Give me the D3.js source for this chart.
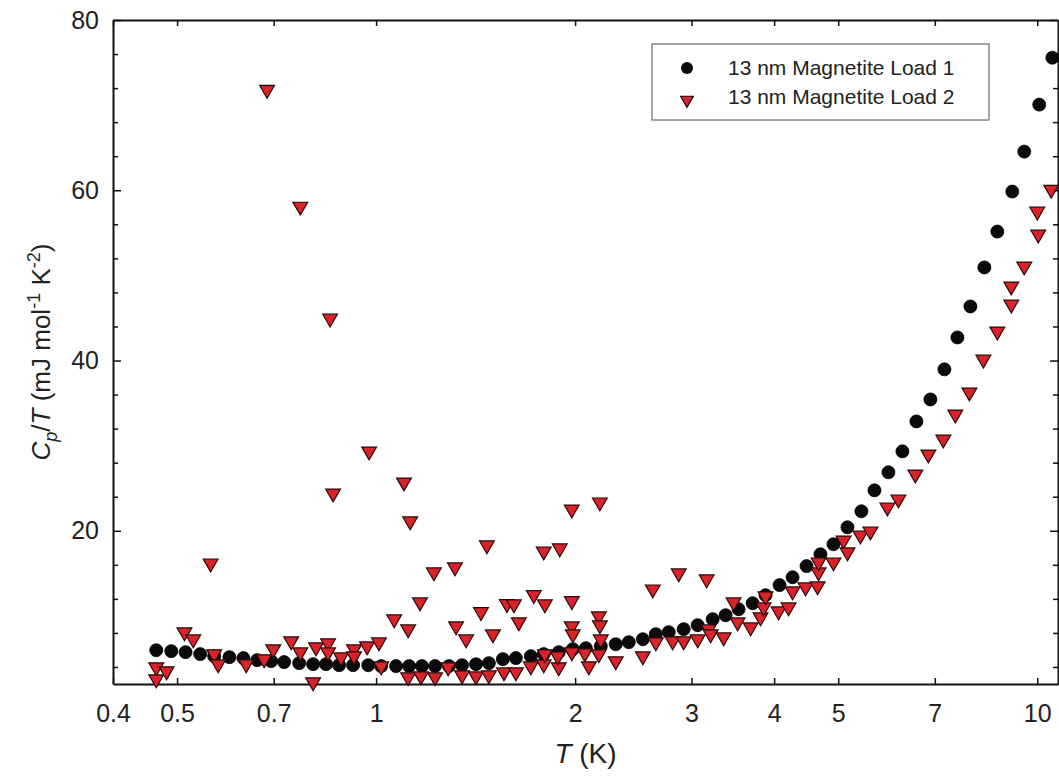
<!DOCTYPE html>
<html>
<head>
<meta charset="utf-8">
<script src="https://cdn.jsdelivr.net/npm/d3@7"></script>
<style>
  body { margin: 0; background: #fff; }
  text { font-family: "Liberation Sans", Arial, sans-serif; fill: #222; }
</style>
</head>
<body>
<div id="chart"></div>
<script>
// ---- data ----
const seriesNames = ["13 nm Magnetite Load 1", "13 nm Magnetite Load 2"];

// Load 1 (black circles): T in K, Cp/T in mJ mol^-1 K^-2
const load1T = [0.465, 0.490, 0.515, 0.542, 0.569, 0.600, 0.630, 0.661, 0.694, 0.726,
  0.765, 0.803, 0.840, 0.879, 0.923, 0.973, 1.018, 1.072, 1.122, 1.173,
  1.228, 1.289, 1.349, 1.416, 1.481, 1.555, 1.627, 1.714, 1.793, 1.889,
  1.984, 2.076, 2.187, 2.304, 2.411, 2.532, 2.649, 2.771, 2.919, 3.065,
  3.229, 3.378, 3.534, 3.711, 3.882, 4.076, 4.265, 4.478, 4.700, 4.918,
  5.164, 5.421, 5.673, 5.956, 6.253, 6.565, 6.893, 7.238, 7.573, 7.923,
  8.318, 8.702, 9.168, 9.558, 10.07, 10.54];
const load1Cp = [5.97, 5.86, 5.74, 5.51, 5.27, 5.15, 5.04, 4.80, 4.69, 4.57,
  4.45, 4.33, 4.33, 4.21, 4.21, 4.21, 4.10, 4.10, 4.10, 4.10,
  4.10, 4.10, 4.21, 4.33, 4.45, 4.92, 5.04, 5.27, 5.51, 5.74,
  6.09, 6.21, 6.44, 6.68, 6.91, 7.26, 7.85, 8.09, 8.44, 8.91,
  9.61, 10.08, 10.79, 11.49, 12.43, 13.62, 14.54, 15.85, 17.24, 18.42,
  20.41, 22.29, 24.75, 26.87, 29.33, 32.85, 35.43, 38.96, 42.71, 46.35,
  50.93, 55.15, 59.85, 64.54, 70.06, 75.57];

// Load 2 (red triangles)
const load2T = [0.465, 0.465, 0.482, 0.513, 0.529, 0.562, 0.569, 0.577, 0.636, 0.677,
  0.699, 0.744, 0.768, 0.803, 0.811, 0.846, 0.846, 0.885, 0.926, 0.926,
  0.969, 1.010, 1.018, 1.065, 0.684, 0.768, 0.852, 0.861, 0.976, 1.102,
  1.126, 1.165, 1.223, 1.316, 1.471, 1.793, 1.896, 1.977, 2.180, 1.441,
  1.577, 1.732, 1.977, 1.616, 1.800, 1.118, 1.321, 1.644, 1.368, 1.502,
  2.869, 2.621, 3.162, 2.172, 2.180, 1.977, 1.984, 2.187, 1.118, 1.169,
  1.228, 1.285, 1.349, 1.416, 1.481, 1.561, 1.627, 1.714, 1.793, 1.800,
  1.889, 1.883, 2.069, 2.098, 2.172, 2.304, 2.532, 2.649, 2.809, 2.919,
  3.065, 3.184, 3.206, 3.355, 3.473, 3.522, 3.685, 3.815, 3.855, 3.882,
  4.062, 4.206, 4.265, 4.462, 4.653, 4.669, 4.669, 4.918, 5.093, 5.164,
  5.403, 5.594, 5.935, 6.166, 6.542, 6.844, 7.211, 7.518, 7.896, 8.289,
  8.702, 9.136, 9.136, 9.558, 10.035, 10.00, 10.50, 1.977];
const load2Cp = [3.98, 2.57, 3.51, 8.09, 7.26, 16.18, 5.51, 4.33, 4.33, 4.92,
  6.09, 7.03, 5.74, 2.22, 6.33, 6.80, 5.74, 5.15, 6.09, 5.27,
  6.44, 6.91, 4.10, 9.61, 71.82, 58.09, 44.94, 24.40, 29.33, 25.69,
  21.12, 11.61, 15.13, 15.72, 18.30, 17.59, 17.95, 22.52, 23.35, 10.46,
  11.40, 12.46, 11.76, 11.37, 11.37, 8.44, 8.79, 9.26, 7.26, 7.85,
  15.01, 13.13, 14.31, 9.96, 8.91, 8.79, 7.85, 7.26, 2.81, 2.92,
  2.81, 3.98, 3.04, 2.92, 3.04, 3.39, 3.39, 4.10, 4.33, 5.51,
  3.98, 5.27, 5.62, 4.10, 5.51, 4.69, 5.27, 6.91, 7.03, 7.03,
  7.26, 8.44, 7.85, 7.50, 11.61, 9.26, 8.67, 9.85, 11.02, 12.31,
  10.55, 11.02, 12.90, 13.37, 13.49, 15.13, 16.30, 16.30, 18.88, 17.48,
  19.47, 19.94, 22.76, 23.70, 26.63, 28.98, 30.74, 33.67, 36.26, 40.13,
  43.42, 46.59, 48.71, 51.06, 54.81, 57.51, 60.08, 5.74];

const xTickValues = [0.4, 0.5, 0.7, 1, 2, 3, 4, 5, 7, 10];
const yTickValues = [20, 40, 60, 80];
const yMinorValues = [4, 8, 12, 16, 24, 28, 32, 36, 44, 48, 52, 56, 64, 68, 72, 76];

function drawChart() {
    const W = 1059, H = 777;
    const margin = {top: 20, right: 1, bottom: 93, left: 113};
    const innerW = W - margin.left - margin.right;
    const innerH = H - margin.top - margin.bottom;

    const svg = d3.select("#chart").append("svg")
        .attr("width", W).attr("height", H);
    svg.append("rect").attr("width", W).attr("height", H).attr("fill", "#fff");

    const g = svg.append("g").attr("transform", `translate(${margin.left},${margin.top})`);

    const x = d3.scaleLog().domain([0.4, 10.75]).range([0, innerW]);
    const y = d3.scaleLinear().domain([2, 80]).range([innerH, 0]);

    // ==== axes (ticks point inward) ====
    const styleAxis = sel => {
        sel.select(".domain").attr("stroke", "#111").attr("stroke-width", 2);
        sel.selectAll(".tick line").attr("stroke", "#111").attr("stroke-width", 1.5);
        sel.selectAll("text").attr("font-size", "25px").attr("fill", "#222")
            .style("font-family", "'Liberation Sans', Arial, sans-serif");
    };

    g.append("g").attr("transform", `translate(0,${innerH})`)
        .call(d3.axisBottom(x).tickValues(xTickValues).tickFormat(d3.format("")).tickSize(-6).tickSizeOuter(0).tickPadding(20))
        .call(styleAxis);

    g.append("g")
        .call(d3.axisTop(x).tickValues(xTickValues).tickFormat("").tickSize(-6).tickSizeOuter(0))
        .call(styleAxis);

    g.append("g")
        .call(d3.axisLeft(y).tickValues(yTickValues).tickSize(-8).tickSizeOuter(0).tickPadding(14))
        .call(styleAxis);
    g.append("g")
        .call(d3.axisLeft(y).tickValues(yMinorValues).tickFormat("").tickSize(-5).tickSizeOuter(0))
        .call(styleAxis).select(".domain").remove();

    g.append("g").attr("transform", `translate(${innerW},0)`)
        .call(d3.axisRight(y).tickValues(yTickValues).tickFormat("").tickSize(-8).tickSizeOuter(0))
        .call(styleAxis);
    g.append("g").attr("transform", `translate(${innerW},0)`)
        .call(d3.axisRight(y).tickValues(yMinorValues).tickFormat("").tickSize(-5).tickSizeOuter(0))
        .call(styleAxis).select(".domain").remove();

    // ==== axis titles ====
    const xt = g.append("text")
        .attr("x", innerW / 2).attr("y", innerH + 79)
        .attr("text-anchor", "middle").attr("font-size", "28px");
    xt.append("tspan").attr("font-style", "italic").text("T");
    xt.append("tspan").text(" (K)");

    const yt = svg.append("text")
        .attr("transform", `translate(50,${margin.top + innerH / 2}) rotate(-90)`)
        .attr("text-anchor", "middle").attr("font-size", "26px");
    yt.append("tspan").attr("font-style", "italic").text("C");
    yt.append("tspan").attr("font-style", "italic").attr("font-size", "18px").attr("dy", 7).text("p");
    yt.append("tspan").attr("dy", -7).text("/");
    yt.append("tspan").attr("font-style", "italic").text("T");
    yt.append("tspan").text(" (mJ mol");
    yt.append("tspan").attr("font-size", "18px").attr("dy", -10).text("-1");
    yt.append("tspan").attr("dy", 10).text(" K");
    yt.append("tspan").attr("font-size", "18px").attr("dy", -10).text("-2");
    yt.append("tspan").attr("dy", 10).text(")");

    // ==== data ====
    const pts1 = load1T.map((t, i) => ({t, v: load1Cp[i]}));
    const pts2 = load2T.map((t, i) => ({t, v: load2Cp[i]}));

    const plot = g.append("g");
    plot.selectAll(".p1").data(pts1).join("circle")
        .attr("class", "p1")
        .attr("cx", d => x(d.t)).attr("cy", d => y(d.v))
        .attr("r", 6.5)
        .attr("fill", "#0a0a0a").attr("stroke", "#000").attr("stroke-width", 0.8);

    const tri = d3.symbol().type(d3.symbolTriangle).size(95);
    plot.selectAll(".p2").data(pts2).join("path")
        .attr("class", "p2")
        .attr("d", tri)
        .attr("transform", d => `translate(${x(d.t)},${y(d.v)}) rotate(180)`)
        .attr("fill", "#d9232b").attr("stroke", "#2a0808").attr("stroke-width", 1.2);

    // ==== legend ====
    const lg = svg.append("g").attr("transform", "translate(652,44)");
    lg.append("rect").attr("width", 337).attr("height", 76)
        .attr("fill", "#fff").attr("stroke", "#888").attr("stroke-width", 1.5);
    lg.append("circle").attr("cx", 35).attr("cy", 24).attr("r", 6)
        .attr("fill", "#0a0a0a");
    lg.append("path").attr("d", d3.symbol().type(d3.symbolTriangle).size(70))
        .attr("transform", "translate(35,56) rotate(180)")
        .attr("fill", "#d9232b").attr("stroke", "#2a0808").attr("stroke-width", 1.2);
    lg.selectAll(".lt").data(seriesNames).join("text")
        .attr("class", "lt")
        .attr("x", 76).attr("y", (d, i) => 24 + i * 29)
        .attr("dy", "0.35em").attr("font-size", "21px")
        .text(d => d);
}

drawChart();
</script>
</body>
</html>
